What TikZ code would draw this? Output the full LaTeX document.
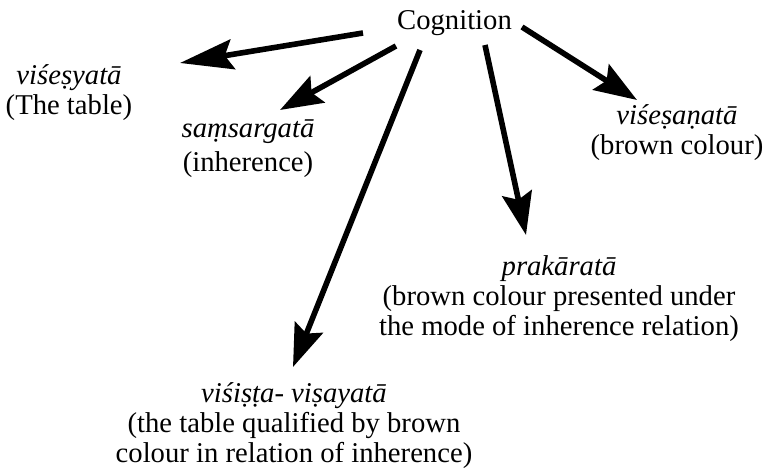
\documentclass[tikz,border=0pt]{standalone}
\usepackage{fontspec}
\setmainfont{Liberation Serif}
\usetikzlibrary{arrows.meta}
\begin{document}
\begin{tikzpicture}[x=0.75pt,y=-0.75pt,
  lbl/.style={align=center, font=\fontsize{21.5}{22.5}\selectfont, inner sep=0pt, anchor=base},
  link/.style={line width=4.2pt, -{Stealth[length=32pt,width=22.5pt,inset=5pt]}},
  longlink/.style={line width=4.2pt, -{Stealth[length=40pt,width=22.5pt,inset=6pt]}}]
\useasboundingbox (0,0) rectangle (769,473);

% labels (each placed on the baseline of its last line)
\node[lbl] (cog) at (454.5,29.5) {Cognition};
\node[lbl] (vsy) at (69,115) {\textit{viśeṣyatā}\\(The table)};
\node[lbl] (sms) at (248,172) {\textit{saṃsargatā}\\[3pt](inherence)};
\node[lbl] (vsn) at (677,155) {\textit{viśeṣaṇatā}\\(brown colour)};
\node[lbl] (prk) at (559,336) {\textit{prakāratā}\\(brown colour presented under\\the mode of inherence relation)};
\node[lbl] (vst) at (294,463) {\textit{viśiṣṭa- viṣayatā}\\(the table qualified by brown\\colour in relation of inherence)};

% arrow ends
\coordinate (a1s) at (363,33);  \coordinate (a1e) at (180,63);
\coordinate (a2s) at (396,46);  \coordinate (a2e) at (280,110);
\coordinate (a3s) at (420,50);  \coordinate (a3e) at (293,367);
\coordinate (a4s) at (485,45);  \coordinate (a4e) at (526,235);
\coordinate (a5s) at (522,27);  \coordinate (a5e) at (637,100);

\draw[longlink] (a1s) -- (a1e);
\draw[link] (a2s) -- (a2e);
\draw[link] (a3s) -- (a3e);
\draw[link] (a4s) -- (a4e);
\draw[link] (a5s) -- (a5e);
\end{tikzpicture}
\end{document}
